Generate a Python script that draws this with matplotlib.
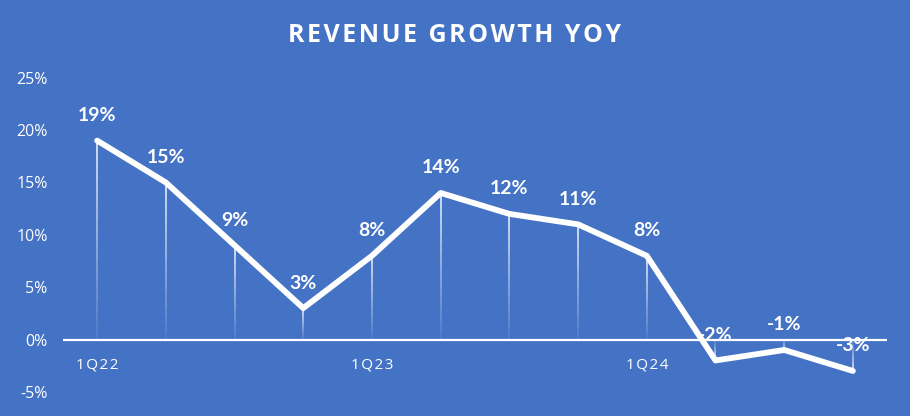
import numpy as np
import matplotlib.pyplot as plt
from matplotlib.collections import LineCollection

# quarterly revenue growth, % yoy
quarters = ["1Q22", "2Q22", "3Q22", "4Q22", "1Q23", "2Q23", "3Q23", "4Q23",
            "1Q24", "2Q24", "3Q24", "4Q24"]
growth = [19, 15, 9, 3, 8, 14, 12, 11, 8, -2, -1, -3]
shown_ticks = ["1Q22", "", "", "", "1Q23", "", "", "", "1Q24", "", "", ""]

bg = "#4472C4"
HS = "\u200a"  # hair space, used as letter spacing


def spaced(s):
    return HS.join(s)


fig = plt.figure(figsize=(9.10, 4.16), dpi=100, facecolor=bg)
ax = fig.add_axes([0.069, 0.058, 0.906, 0.755])
ax.set_facecolor(bg)

x = np.arange(len(growth))

# drop lines that fade towards the zero line
segs, cols = [], []
for xi, yi in zip(x, growth):
    edges = np.linspace(yi, 0, 21)
    for k in range(20):
        segs.append([(xi, edges[k]), (xi, edges[k + 1])])
        cols.append((1, 1, 1, 0.95 - 0.85 * k / 19))
ax.add_collection(LineCollection(segs, colors=cols, linewidths=1.1, zorder=2))

ax.axhline(0, color="white", lw=1.6, zorder=3)
ax.plot(x, growth, color="white", lw=4.2, solid_capstyle="round",
        solid_joinstyle="round", zorder=4)

for xi, yi in zip(x, growth):
    ax.annotate(f"{yi}%", (xi, yi), xytext=(0, 18), textcoords="offset points",
                ha="center", va="center", color="white", fontsize=14,
                fontweight="bold", fontfamily="Lato", zorder=5)

ax.set_xlim(-0.5, len(growth) - 0.5)
ax.set_ylim(-5, 25)
ax.set_yticks(range(-5, 26, 5))
ax.set_yticklabels([f"{v}%" for v in range(-5, 26, 5)],
                   fontfamily=["Open Sans", "DejaVu Sans"], fontsize=11.5,
                   color="white")
ax.set_xticks(x)
ax.set_xticklabels([spaced(t) for t in shown_ticks],
                   fontfamily=["Open Sans", "DejaVu Sans"], fontsize=11,
                   color="white")
ax.tick_params(length=0)
ax.tick_params(axis="y", pad=11)
# quarter labels sit just under the zero line
for lbl in ax.get_xticklabels():
    lbl.set_transform(ax.get_xaxis_transform())
    lbl.set_y(0.086)
    lbl.set_va("center")
for s in ax.spines.values():
    s.set_visible(False)

fig.text(0.5, 0.915, spaced("REVENUE GROWTH YOY"), ha="center", va="center",
         color="white", fontsize=18, fontweight="bold",
         fontfamily=["Open Sans", "DejaVu Sans"])

fig.savefig("out.png", facecolor=bg)
